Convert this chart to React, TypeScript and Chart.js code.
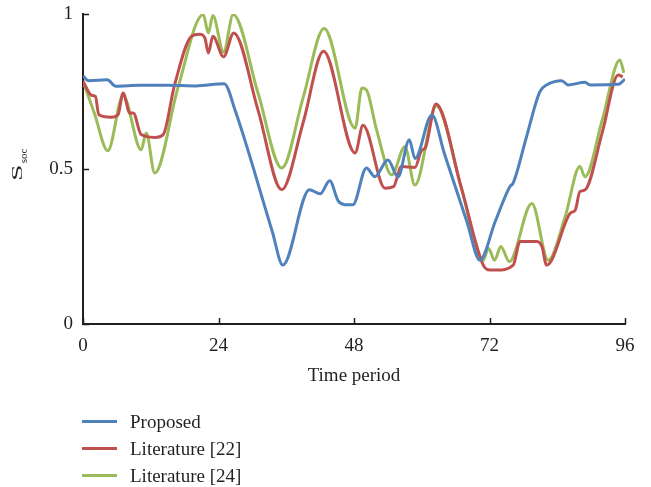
import React, { useEffect, useRef } from "react";
import { Chart, registerables } from "chart.js";

Chart.register(...registerables);

// ---- data ----
const xTicks = [0, 24, 48, 72, 96];
const yTicks = [0, 0.5, 1];
const seriesNames = ["Proposed", "Literature [22]", "Literature [24]"];
const seriesColors = ["#4F81BD", "#C0504D", "#9BBB59"];

const proposedX = [0, 1, 4.3, 5.8, 10, 15, 20, 25, 27, 33.5, 35.4, 40.1, 42, 43.7, 45.2, 46.4, 47.8, 50.2, 51.7, 54, 55.8, 57.8, 58.8, 61.8, 64, 68, 70.3, 73, 75.6, 76.2, 78.5, 80.9, 82.1, 84.8, 85.9, 88.9, 89.8, 94.8, 96];
const proposedY = [0.8, 0.785, 0.788, 0.767, 0.77, 0.77, 0.768, 0.775, 0.686, 0.3, 0.19, 0.433, 0.42, 0.462, 0.397, 0.385, 0.385, 0.503, 0.475, 0.529, 0.475, 0.594, 0.534, 0.674, 0.55, 0.33, 0.206, 0.33, 0.443, 0.455, 0.6, 0.749, 0.771, 0.785, 0.771, 0.78, 0.771, 0.773, 0.79];

const lit22X = [0, 1.5, 2.2, 2.8, 5, 6.2, 7.1, 8.3, 8.9, 10.3, 12.7, 14.2, 16.2, 19.2, 20.7, 21.6, 22.2, 23.0, 24.9, 26.7, 31, 35.2, 39, 42.6, 48.2, 49.6, 53.5, 55, 56.4, 58.8, 60, 60.6, 62.5, 67, 70.9, 72.1, 73.3, 76.2, 77.4, 80.4, 81.3, 82.1, 83, 86.3, 87.2, 88, 88.9, 92, 94.8, 95.6];
const lit22Y = [0.783, 0.738, 0.734, 0.675, 0.667, 0.675, 0.745, 0.68, 0.681, 0.611, 0.602, 0.611, 0.77, 0.928, 0.935, 0.922, 0.874, 0.928, 0.862, 0.939, 0.69, 0.433, 0.65, 0.88, 0.552, 0.641, 0.438, 0.443, 0.508, 0.505, 0.561, 0.567, 0.71, 0.44, 0.19, 0.174, 0.174, 0.19, 0.266, 0.266, 0.249, 0.19, 0.206, 0.357, 0.368, 0.427, 0.432, 0.62, 0.803, 0.797];

const lit24X = [0, 2, 4.4, 7.1, 10.3, 11.2, 12.7, 16.8, 21.3, 22.2, 23.0, 24.9, 26.6, 31, 35.2, 39, 42.7, 48.2, 49.4, 50.2, 52, 54.7, 57.0, 58.8, 62.6, 67, 70.9, 71.8, 72.9, 74.0, 75.5, 79.5, 82.4, 85.4, 88, 88.9, 92, 95.1, 95.8];
const lit24Y = [0.783, 0.681, 0.559, 0.737, 0.562, 0.616, 0.487, 0.761, 0.998, 0.939, 0.995, 0.877, 0.998, 0.745, 0.503, 0.731, 0.953, 0.632, 0.761, 0.755, 0.626, 0.481, 0.572, 0.448, 0.703, 0.44, 0.206, 0.244, 0.206, 0.25, 0.201, 0.389, 0.206, 0.346, 0.508, 0.475, 0.66, 0.852, 0.81];

const seriesX = [proposedX, lit22X, lit24X];
const seriesY = [proposedY, lit22Y, lit24Y];

const FONT = "'Liberation Serif', 'Times New Roman', serif";
const TEXT = "#231f20";

const decorPlugin = {
  id: "decor",
  afterDraw(chart: any) {
    const { ctx, chartArea, scales } = chart;
    ctx.save();
    ctx.strokeStyle = TEXT;
    ctx.lineWidth = 1.5;
    ctx.beginPath();
    for (const v of xTicks) {
      const px = Math.round(scales.x.getPixelForValue(v)) + 0.5;
      ctx.moveTo(px, chartArea.bottom);
      ctx.lineTo(px, chartArea.bottom - 6);
    }
    for (const v of yTicks) {
      const py = Math.round(scales.y.getPixelForValue(v)) + 0.5;
      ctx.moveTo(chartArea.left, py);
      ctx.lineTo(chartArea.left + 6, py);
    }
    ctx.stroke();

    // y axis title: S with subscript "soc", rotated
    ctx.translate(22, 181);
    ctx.rotate(-Math.PI / 2);
    ctx.fillStyle = TEXT;
    ctx.textBaseline = "alphabetic";
    ctx.textAlign = "left";
    ctx.save();
    ctx.scale(1.5, 0.72);
    ctx.font = `20px ${FONT}`;
    ctx.fillText("S", 0, 0);
    const sw = ctx.measureText("S").width * 1.5;
    ctx.restore();
    ctx.font = `11px ${FONT}`;
    ctx.fillText("soc", sw + 1, 5);
    ctx.restore();
  },
};

export default function App() {
  const canvasRef = useRef<HTMLCanvasElement | null>(null);

  useEffect(() => {
    const canvas = canvasRef.current;
    if (!canvas) return;
    const datasets = seriesNames.map((name, i) => ({
      label: name,
      data: seriesX[i].map((x, j) => ({ x, y: seriesY[i][j] })),
      borderColor: seriesColors[i],
      backgroundColor: seriesColors[i],
      borderWidth: 3,
      pointRadius: 0,
      fill: false,
      cubicInterpolationMode: "monotone" as const,
    }));
    const chart = new Chart(canvas, {
      type: "line",
      data: { datasets },
      options: {
        responsive: false,
        animation: false,
        devicePixelRatio: 1,
        layout: { padding: { top: 14, right: 26, bottom: 97, left: 0 } },
        plugins: { legend: { display: false }, tooltip: { enabled: false } },
        scales: {
          x: {
            type: "linear",
            min: 0,
            max: 96,
            afterFit: (s: any) => {
              s.height = 66;
              s.paddingLeft = 0;
              s.paddingRight = 0;
            },
            ticks: {
              stepSize: 24,
              padding: 11,
              maxRotation: 0,
              color: TEXT,
              font: { family: FONT, size: 19 },
            },
            grid: { display: false, drawTicks: false },
            border: { display: true, color: TEXT, width: 2 },
            title: {
              display: true,
              text: "Time period",
              color: TEXT,
              font: { family: FONT, size: 19 },
              padding: { top: 0, bottom: 3 },
            },
          },
          y: {
            type: "linear",
            min: 0,
            max: 1,
            afterFit: (s: any) => {
              s.width = 83;
              s.paddingTop = 0;
              s.paddingBottom = 0;
            },
            ticks: {
              stepSize: 0.5,
              padding: 10,
              color: TEXT,
              font: { family: FONT, size: 19 },
              callback: (v: any) => String(v),
            },
            grid: { display: false, drawTicks: false },
            border: { display: true, color: TEXT, width: 2 },
          },
        },
      },
      plugins: [decorPlugin],
    });
    return () => chart.destroy();
  }, []);

  return (
    <div style={{ position: "absolute", left: 0, top: 0, width: 651, height: 487, background: "#fff" }}>
      <canvas ref={canvasRef} width={651} height={487} style={{ display: "block" }} />
      <div style={{ position: "absolute", left: 82, top: 408, fontFamily: FONT, fontSize: 19, color: TEXT }}>
        {seriesNames.map((name, i) => (
          <div key={name} style={{ display: "flex", alignItems: "center", height: 27 }}>
            <div style={{ width: 35, height: 3, background: seriesColors[i], marginRight: 13 }} />
            <span>{name}</span>
          </div>
        ))}
      </div>
    </div>
  );
}
